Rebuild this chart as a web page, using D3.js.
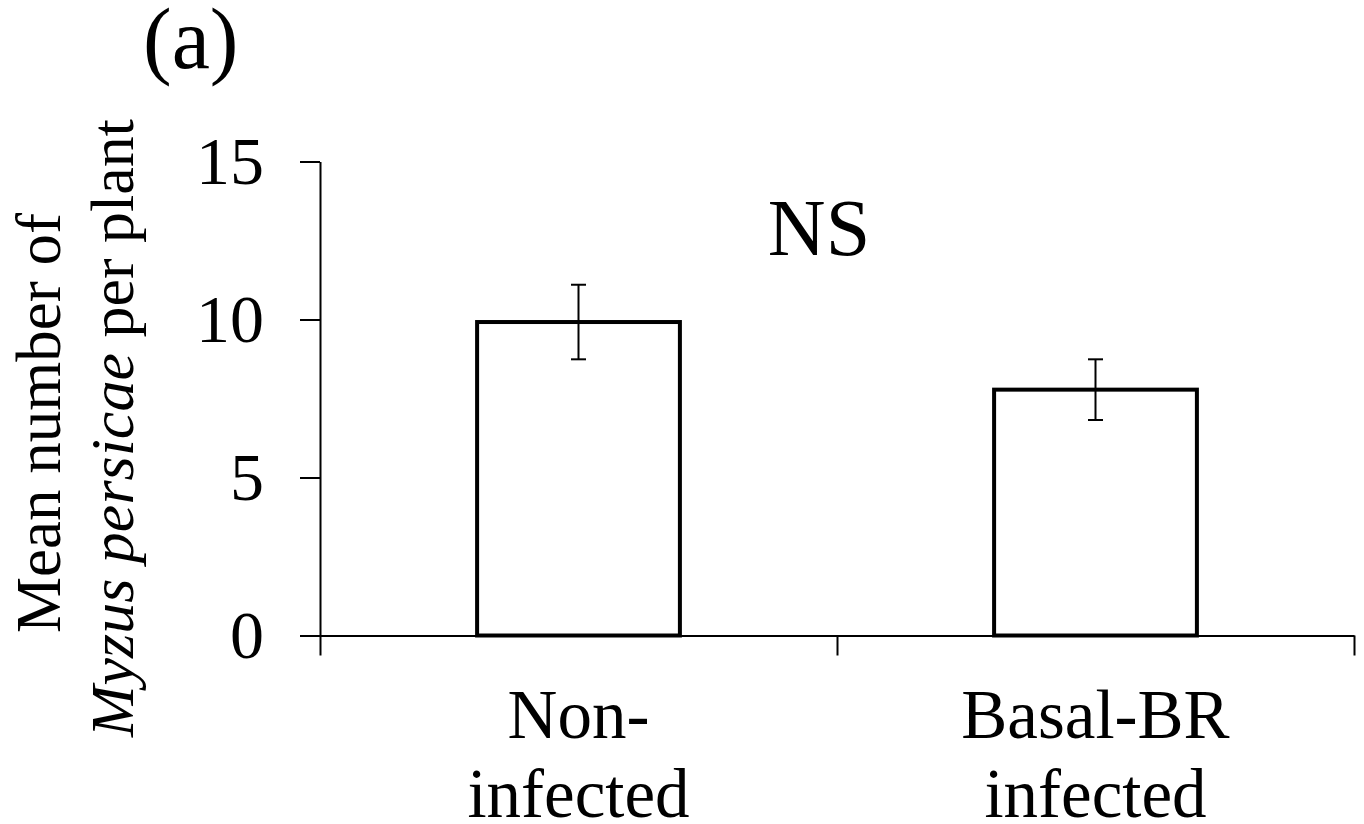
<!DOCTYPE html>
<html>
<head>
    <meta charset="utf-8">
    <title>Myzus persicae per plant</title>
    <script src="https://d3js.org/d3.v7.min.js"></script>
    <style>
        body { margin: 0; background: #fff; }
        svg text { font-family: "Liberation Serif", "Times New Roman", serif; fill: #000; }
    </style>
</head>
<body>
    <div id="chart"></div>

    <script>
        // data
        var categories = ["Non-infected", "Basal-BR infected"];
        var labelLines = [["Non-", "infected"], ["Basal-BR", "infected"]];
        var means = [9.92, 7.78];
        var errors = [1.18, 0.96];
        var yTicks = [0, 5, 10, 15];

        var width = 1364, height = 824;

        var svg = d3.select("#chart")
            .append("svg")
            .attr("width", width)
            .attr("height", height);

        var x = d3.scaleBand()
            .domain(categories)
            .range([320, 1354])
            .padding(0);

        var y = d3.scaleLinear()
            .domain([0, 15])
            .range([635.5, 161.5]);

        var barW = x.bandwidth() * 0.4;

        // y axis
        var yAxis = svg.append("g")
            .attr("transform", "translate(320,0)")
            .call(d3.axisLeft(y).tickValues(yTicks).tickSize(20).tickSizeOuter(0).tickPadding(36));
        yAxis.selectAll("path, line").attr("stroke", "#000").attr("stroke-width", 2);
        yAxis.selectAll("text")
            .attr("dy", "0.33em")
            .style("font-size", "68px");

        // x axis: ticks on category boundaries
        var edges = d3.scaleLinear().domain([0, categories.length]).range(x.range());
        var xAxis = svg.append("g")
            .attr("transform", "translate(0," + y(0) + ")")
            .call(d3.axisBottom(edges).ticks(categories.length).tickFormat("").tickSize(20).tickSizeOuter(0));
        xAxis.selectAll("path, line").attr("stroke", "#000").attr("stroke-width", 2);

        // bars
        svg.selectAll("rect.bar")
            .data(means)
            .enter()
            .append("rect")
            .attr("class", "bar")
            .attr("x", function(d, i) { return x(categories[i]) + x.bandwidth() / 2 - barW / 2 + 2; })
            .attr("width", barW - 4)
            .attr("y", function(d) { return y(d); })
            .attr("height", function(d) { return y(0) - y(d); })
            .attr("fill", "#fff")
            .attr("stroke", "#000")
            .attr("stroke-width", 4);

        // error bars
        var err = svg.selectAll("g.err")
            .data(means)
            .enter()
            .append("g")
            .attr("class", "err")
            .attr("stroke", "#000")
            .attr("stroke-width", 2);
        err.append("line")
            .attr("x1", function(d, i) { return x(categories[i]) + x.bandwidth() / 2; })
            .attr("x2", function(d, i) { return x(categories[i]) + x.bandwidth() / 2; })
            .attr("y1", function(d, i) { return y(d + errors[i]); })
            .attr("y2", function(d, i) { return y(d - errors[i]); });
        [1, -1].forEach(function(s) {
            err.append("line")
                .attr("x1", function(d, i) { return x(categories[i]) + x.bandwidth() / 2 - 7.5; })
                .attr("x2", function(d, i) { return x(categories[i]) + x.bandwidth() / 2 + 7.5; })
                .attr("y1", function(d, i) { return y(d + s * errors[i]); })
                .attr("y2", function(d, i) { return y(d + s * errors[i]); });
        });

        // category labels
        var cat = svg.selectAll("text.cat")
            .data(labelLines)
            .enter()
            .append("text")
            .attr("class", "cat")
            .attr("text-anchor", "middle")
            .style("font-size", "69px");
        cat.selectAll("tspan")
            .data(function(d, i) { return d.map(function(t) { return { t: t, i: i }; }); })
            .enter()
            .append("tspan")
            .attr("x", function(d) { return x(categories[d.i]) + x.bandwidth() / 2; })
            .attr("y", function(d, j) { return 738 + j * 79; })
            .text(function(d) { return d.t; });

        // y axis title, two lines
        var yt1 = svg.append("text")
            .attr("transform", "translate(60,423) rotate(-90)")
            .attr("text-anchor", "middle")
            .style("font-size", "63px")
            .text("Mean number of");
        var yt2 = svg.append("text")
            .attr("transform", "translate(133,428) rotate(-90)")
            .attr("text-anchor", "middle")
            .style("font-size", "62px");
        yt2.append("tspan").style("font-style", "italic").text("Myzus persicae");
        yt2.append("tspan").text(" per plant");

        // significance note and panel letter
        svg.append("text")
            .attr("x", 819)
            .attr("y", 255)
            .attr("text-anchor", "middle")
            .style("font-size", "80px")
            .text("NS");

        svg.append("text")
            .attr("x", 143)
            .attr("y", 68)
            .style("font-size", "86px")
            .text("(a)");
    </script>
</body>
</html>
